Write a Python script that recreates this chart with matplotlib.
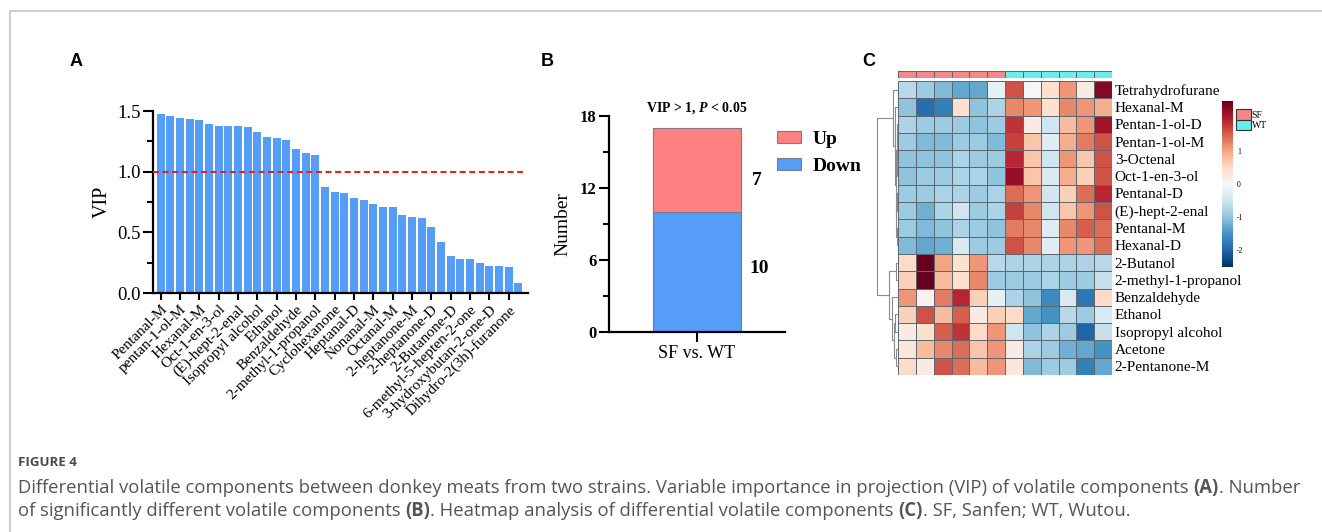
import numpy as np
import matplotlib
matplotlib.use("Agg")
import matplotlib.pyplot as plt
from matplotlib.colors import ListedColormap
from matplotlib.patches import Patch
from matplotlib.lines import Line2D

plt.rcParams['font.family'] = ['Liberation Serif', 'DejaVu Serif']
plt.rcParams['axes.unicode_minus'] = False
plt.rcParams['mathtext.fontset'] = 'custom'
plt.rcParams['mathtext.it'] = 'Liberation Serif:bold:italic'
plt.rcParams['mathtext.rm'] = 'Liberation Serif:bold'

W, H = 1322, 532

# ---- panel A: VIP of volatile components (38 bars, every other one labelled)
vip_values = [1.473, 1.456, 1.445, 1.437, 1.429, 1.390, 1.379, 1.376, 1.374, 1.365,
              1.324, 1.288, 1.275, 1.264, 1.190, 1.154, 1.137, 0.876, 0.832, 0.822,
              0.781, 0.766, 0.731, 0.707, 0.707, 0.646, 0.628, 0.619, 0.547, 0.421,
              0.307, 0.280, 0.280, 0.250, 0.224, 0.221, 0.217, 0.082]
vip_tick_labels = ['Pentanal-M', 'pentan-1-ol-M', 'Hexanal-M', 'Oct-1-en-3-ol',
                   '(E)-hept-2-enal', 'Isopropyl alcohol', 'Ethanol', 'Benzaldehyde',
                   '2-methyl-1-propanol', 'Cyclohexanone', 'Heptanal-D', 'Nonanal-M',
                   'Octanal-M', '2-heptanone-M', '2-heptanone-D', '2-Butanone-D',
                   '6-methyl-5-hepten-2-one', '3-hydroxybutan-2-one-D',
                   'Dihydro-2(3h)-furanone']
vip_threshold = 1.0

# ---- panel B: number of significantly different components
comparison = 'SF vs. WT'
n_down = 10
n_up = 7

# ---- panel C: heatmap (z-scores), 6 SF + 6 WT samples
heat_rows = ['Tetrahydrofurane', 'Hexanal-M', 'Pentan-1-ol-D', 'Pentan-1-ol-M',
             '3-Octenal', 'Oct-1-en-3-ol', 'Pentanal-D', '(E)-hept-2-enal',
             'Pentanal-M', 'Hexanal-D', '2-Butanol', '2-methyl-1-propanol',
             'Benzaldehyde', 'Ethanol', 'Isopropyl alcohol', 'Acetone', '2-Pentanone-M']
sample_groups = ['SF'] * 6 + ['WT'] * 6
heat_values = np.array([
    [-0.7, -0.9, -1.1, -1.3, -1.3, -0.2,  1.6,  0.0,  0.4,  1.1,  0.2,  2.3],
    [-1.0, -1.9, -1.7,  0.4, -1.0, -0.8,  1.2,  1.1,  0.4,  1.2,  1.1,  0.9],
    [-0.8, -0.9, -0.9, -0.9, -1.0, -0.9,  1.8,  0.2, -0.5,  0.8,  1.1,  2.1],
    [-0.9, -1.1, -1.1, -0.9, -0.9, -1.1,  1.7,  0.7, -0.3,  0.9,  1.3,  1.6],
    [-1.0, -1.0, -1.0, -0.8, -0.9, -0.9,  1.9,  0.7, -0.5,  1.1,  0.7,  1.6],
    [-1.0, -0.9, -0.9, -0.8, -0.8, -1.0,  2.2,  0.7, -0.4,  0.9,  0.6,  1.6],
    [-0.9, -0.9, -0.8, -0.8, -0.9, -0.8,  1.4,  1.1, -0.5,  0.6,  1.4,  1.9],
    [-0.9, -1.2, -0.8, -0.5, -0.9, -0.8,  1.7,  1.2, -0.5,  0.7,  1.1,  1.6],
    [-0.9, -1.1, -1.0, -0.8, -0.9, -1.0,  1.3,  1.2, -0.3,  1.2,  1.5,  1.4],
    [-1.1, -1.3, -1.2, -0.4, -0.9, -0.9,  1.6,  1.2, -0.3,  1.1,  1.1,  1.4],
    [ 0.5,  2.5,  1.0,  0.4,  1.1, -0.7, -0.8, -0.8, -0.8, -0.8, -0.8, -0.7],
    [ 0.6,  2.5,  0.8,  0.4,  1.2, -0.9, -0.9, -0.9, -0.8, -0.9, -0.9, -0.6],
    [ 1.1,  0.1,  1.3,  1.9,  0.6, -0.2, -0.8, -1.0, -1.6, -0.4, -1.8,  0.5],
    [ 0.6,  1.6,  0.8,  1.5,  0.2,  0.6,  0.5, -1.3, -1.5, -0.7, -0.9, -0.4],
    [ 0.2,  0.4,  1.5,  1.8,  0.5,  1.1, -0.5, -1.0, -0.8, -0.9, -2.0, -0.6],
    [ 0.3,  0.8,  1.2,  1.4,  0.7,  1.1,  0.2, -0.8, -0.9, -1.2, -1.3, -1.5],
    [ 0.5,  0.2,  1.6,  1.4,  0.8,  1.1,  0.3, -1.1, -0.9, -0.9, -1.7, -1.3],
])
# row dendrogram as merges (left, right, height); new nodes numbered from 17
row_merges = [(2, 3, 0.04), (4, 5, 0.03), (17, 18, 0.07), (6, 7, 0.04), (8, 9, 0.05),
              (20, 21, 0.08), (19, 22, 0.11), (1, 23, 0.16), (0, 24, 0.24),
              (10, 11, 0.10), (13, 14, 0.12), (15, 16, 0.08), (27, 28, 0.20),
              (12, 29, 0.30), (26, 30, 0.45), (25, 31, 1.00)]

caption_title = 'FIGURE 4'
caption_lines = [
    [('Differential volatile components between donkey meats from two strains. Variable importance in projection (VIP) of volatile components ', False),
     ('(A)', True), ('. Number', False)],
    [('of significantly different volatile components ', False), ('(B)', True),
     ('. Heatmap analysis of differential volatile components ', False), ('(C)', True),
     ('. SF, Sanfen; WT, Wutou.', False)],
]

BLUE = '#559df7'
PINK = '#ff8080'


def box(x0, y0, x1, y1):
    return [x0 / W, 1 - y1 / H, (x1 - x0) / W, (y1 - y0) / H]


fig = plt.figure(figsize=(W / 100, H / 100), dpi=100)

# frame of the figure
fig.add_artist(Line2D([10 / W, 10 / W, 1], [0, 1 - 11 / H, 1 - 11 / H],
                      color='#c4c4c4', lw=1.2, transform=fig.transFigure))

for lab, px in [('A', 70), ('B', 541), ('C', 862)]:
    fig.text(px / W, 1 - 62 / H, lab, fontsize=13, fontweight='bold',
             family='Liberation Sans', va='center', ha='left')

# ---------------- A
axA = fig.add_axes(box(153, 111, 528, 293))
xs = np.arange(len(vip_values))
axA.bar(xs, vip_values, width=0.84, color=BLUE, edgecolor='none')
axA.hlines(vip_threshold, -0.8, len(vip_values) - 0.5, colors='#e42222',
           linestyles=(0, (2.9, 1.7)), lw=1.5, zorder=3)
axA.set_xlim(-0.8, len(vip_values))
axA.set_ylim(0, 1.5)
axA.set_xticks(xs[::2])
axA.set_xticklabels(vip_tick_labels, rotation=45, ha='right', rotation_mode='anchor',
                    fontsize=11)
axA.set_yticks([0, 0.5, 1.0, 1.5])
axA.set_yticklabels(['0.0', '0.5', '1.0', '1.5'], fontsize=13.5)
axA.set_yticks([0.25, 0.75, 1.25], minor=True)
axA.tick_params(axis='both', which='major', length=7, width=1.5, pad=2)
axA.tick_params(axis='y', which='minor', length=4, width=1.5)
axA.tick_params(axis='x', length=5)
for s in ['top', 'right']:
    axA.spines[s].set_visible(False)
for s in ['left', 'bottom']:
    axA.spines[s].set_linewidth(1.6)
axA.set_ylabel('VIP', fontsize=14.5, labelpad=4)

# ---------------- B
axB = fig.add_axes(box(609, 116, 785, 332))
axB.bar(0, n_down, width=1.0, color=BLUE, edgecolor='#7a7a8a', lw=0.8, label='Down')
axB.bar(0, n_up, bottom=n_down, width=1.0, color=PINK, edgecolor='#7a7a8a', lw=0.8,
        label='Up')
axB.set_xlim(-1, 1)
axB.set_ylim(0, 18)
axB.set_yticks([0, 6, 12, 18])
axB.set_yticklabels(['0', '6', '12', '18'], fontsize=12, fontweight='bold')
axB.set_yticks([3, 9, 15], minor=True)
axB.set_xticks([0])
axB.set_xticklabels([comparison], fontsize=13)
axB.tick_params(axis='both', which='major', length=7, width=1.5, pad=2)
axB.tick_params(axis='y', which='minor', length=4, width=1.5)
for s in ['top', 'right']:
    axB.spines[s].set_visible(False)
for s in ['left', 'bottom']:
    axB.spines[s].set_linewidth(1.6)
axB.set_ylabel('Number', fontsize=14, labelpad=6)
axB.text(0, 18.7, r'VIP > 1, $P$ < 0.05', ha='center', va='center', fontsize=10,
         fontweight='bold')
axB.text(0.62, n_down + n_up / 2 - 0.9, str(n_up), fontsize=14, fontweight='bold',
         va='center')
axB.text(0.6, n_down / 2 + 0.3, str(n_down), fontsize=14, fontweight='bold', va='center')
hs, ls = axB.get_legend_handles_labels()
axB.legend(hs[::-1], ls[::-1], loc='upper left', bbox_to_anchor=(0.955, 0.93),
           frameon=False, prop={'weight': 'bold', 'size': 14},
           handlelength=1.25, handleheight=0.55, handletextpad=0.6, labelspacing=0.5,
           borderpad=0, borderaxespad=0)

# ---------------- C
nr, nc = heat_values.shape
axH = fig.add_axes(box(898, 81, 1112, 375))
mesh = axH.pcolormesh(heat_values, cmap='RdBu_r', vmin=-2.5, vmax=2.5,
                      edgecolors='#5f6770', linewidth=0.6)
axH.set_xlim(0, nc)
axH.set_ylim(nr, 0)
axH.set_xticks([])
axH.set_yticks(np.arange(nr) + 0.5)
axH.set_yticklabels(heat_rows, fontsize=11)
axH.yaxis.tick_right()
axH.tick_params(axis='y', length=0, pad=2)
for s in axH.spines.values():
    s.set_visible(False)

# column annotation
axG = fig.add_axes(box(898, 71, 1112, 78))
groups = sorted(set(sample_groups))
gcodes = np.array([[groups.index(g) for g in sample_groups]])
axG.pcolormesh(gcodes, cmap=ListedColormap(['#f4878a', '#66efef']), vmin=0, vmax=1,
               edgecolors='#5f6770', linewidth=0.6)
axG.set_xlim(0, nc)
axG.set_axis_off()

# row dendrogram
axD = fig.add_axes(box(875, 81, 898, 375))
pos = {i: (i + 0.5, 0.0) for i in range(nr)}
for k, (a, b, h) in enumerate(row_merges):
    ya, ha = pos[a]
    yb, hb = pos[b]
    axD.plot([ha, h, h, hb], [ya, ya, yb, yb], color='#8a8a8a', lw=0.8,
             solid_capstyle='butt')
    pos[nr + k] = ((ya + yb) / 2, h)
axD.set_xlim(1.1, 0)
axD.set_ylim(nr, 0)
axD.set_axis_off()

# colour bar
cax = fig.add_axes(box(1222, 101, 1233, 267))
cb = fig.colorbar(mesh, cax=cax, ticks=[-2, -1, 0, 1, 2])
cb.outline.set_visible(False)
cb.ax.set_yticklabels(['-2', '-1', '0', '1', '2'])
cb.ax.tick_params(length=0, labelsize=5.5, pad=3)

fig.legend([Patch(fc='#f4878a', ec='#333333', lw=0.8), Patch(fc='#66efef', ec='#333333', lw=0.8)],
           ['SF', 'WT'], loc='upper left', bbox_to_anchor=(1236 / W, 1 - 109 / H),
           frameon=False, fontsize=7, handlelength=1.5, handleheight=1.3,
           handletextpad=0.1, labelspacing=0.0, borderpad=0, borderaxespad=0)

# ---------------- caption
fig.text(18 / W, 1 - 463 / H, caption_title, fontsize=9.5, fontweight='bold',
         family='Open Sans', color='#4a4a4a', va='center')
renderer = fig.canvas.get_renderer()
for li, parts in enumerate(caption_lines):
    x = 18 / W
    y = 1 - (488 + 23 * li) / H
    for txt, bold in parts:
        t = fig.text(x, y, txt, fontsize=13.35, family='Open Sans', color='#555555',
                     fontweight='bold' if bold else 'normal', va='center')
        bb = t.get_window_extent(renderer)
        x += bb.width / W

fig.savefig('out.png', dpi=100)
